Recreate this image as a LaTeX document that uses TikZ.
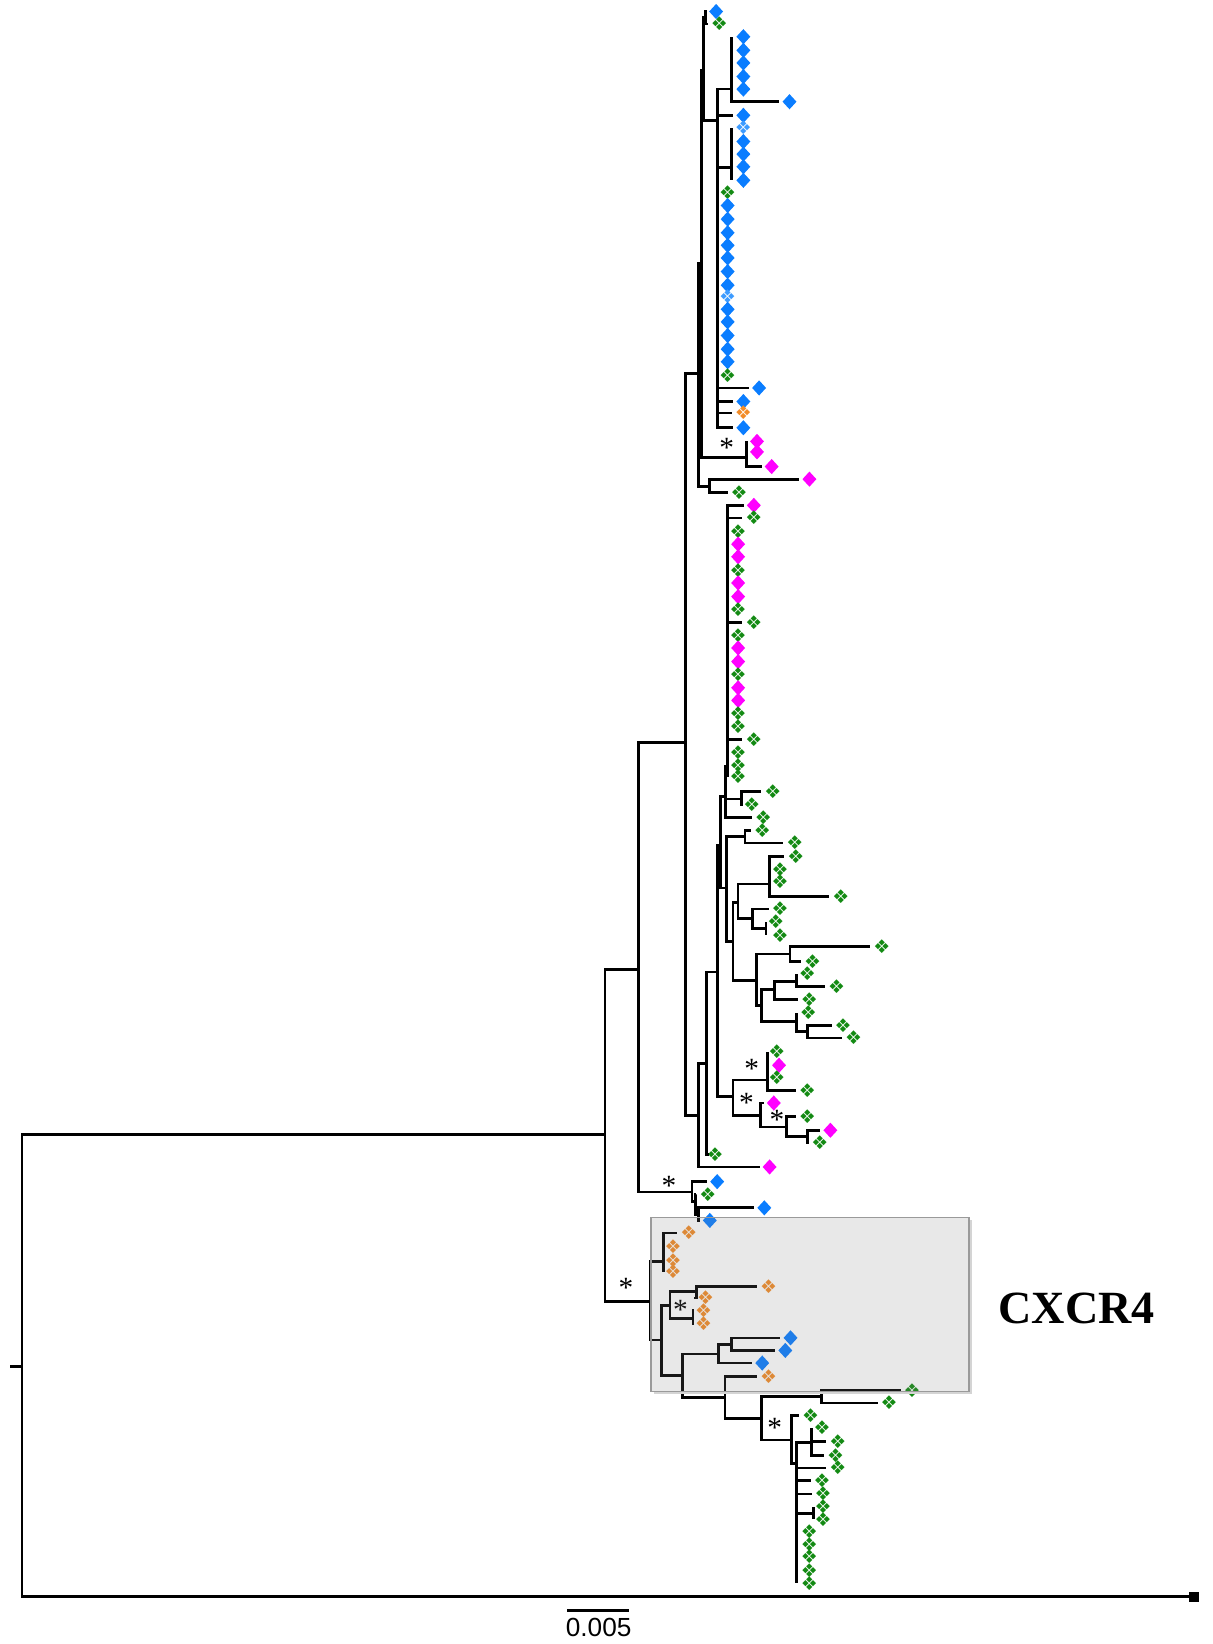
\documentclass[tikz,border=0pt]{standalone}
\usepackage{fontspec}
\setmainfont{Liberation Serif}
\newfontfamily\symfont{DejaVu Sans}
\newfontfamily\barfont{Liberation Sans}
\usetikzlibrary{shapes.geometric}
\definecolor{TipBlue}{HTML}{0A7DFF}
\definecolor{TipPink}{HTML}{FF00FF}
\definecolor{TipGreen}{HTML}{138A13}
\definecolor{TipOrange}{HTML}{F28C28}
\definecolor{TipSky}{HTML}{3D9BFF}
\definecolor{BoxGray}{HTML}{808080}
\definecolor{BoxEdge}{HTML}{9A9A9A}
\definecolor{BoxShade}{HTML}{D4D4D4}

\begin{document}
\begin{tikzpicture}[x=0.5pt,y=-0.5pt,
  br/.style={line width=1.3pt},
  lf/.style={br,shorten >=1.2pt},
  bd/.style={diamond,fill=TipBlue,inner sep=0pt,minimum width=6.8pt,minimum height=7.4pt},
  pd/.style={bd,fill=TipPink},
  gc/.style={inner sep=0pt,text=TipGreen,font=\symfont\fontsize{9}{9}\selectfont,execute at begin node={❖}},
  oc/.style={gc,text=TipOrange},
  bc/.style={gc,text=TipSky},
  ast/.style={inner sep=0pt,font=\fontsize{14}{14}\selectfont}]
\useasboundingbox (0,0) rectangle (1156,1568);

% internal nodes of the tree
\coordinate (root) at (21,1303);
\coordinate (tick) at (10,1303);
\coordinate (n1) at (577,1082);
\coordinate (n2) at (609,925);
\coordinate (nC) at (654,708);
\coordinate (nB) at (666,356);
\coordinate (nA) at (669,251);
\coordinate (nA2) at (671,67);
\coordinate (nT) at (673,17);
\coordinate (n84) at (684,115);
\coordinate (n98a) at (698,85);
\coordinate (n98b) at (698,160);
\coordinate (nPk) at (712,436);
\coordinate (nP2) at (677,464);
\coordinate (nD) at (666,1064);
\coordinate (nE) at (674,1014);
\coordinate (nF) at (684,927);
\coordinate (nG) at (687,806);
\coordinate (nK) at (692,760);
\coordinate (nM) at (694,731);
\coordinate (nH) at (707.5,762);
\coordinate (nI) at (693,847);
\coordinate (nI1) at (710.6,798);
\coordinate (nI2) at (699,898);
\coordinate (nI3) at (704,861);
\coordinate (nI4) at (734,843);
\coordinate (nI5) at (718,876);
\coordinate (nI6) at (730.7,885.5);
\coordinate (nI7) at (721.8,935);
\coordinate (nI8) at (753.5,910);
\coordinate (nI9) at (726.5,959);
\coordinate (nI10) at (739,944);
\coordinate (nI11) at (760,936);
\coordinate (nI12) at (760,974.5);
\coordinate (nI13) at (770,984);
\coordinate (nS1) at (699,1046);
\coordinate (nS2) at (732,1030);
\coordinate (nS3) at (725,1064);
\coordinate (nS4) at (750,1075);
\coordinate (nS5) at (770,1084);
\coordinate (n3) at (660,1137);
\coordinate (n4) at (663,1146);
\coordinate (n5) at (666,1158);
\coordinate (nX) at (620,1241);
\coordinate (nX1) at (632.7,1203);
\coordinate (nX2) at (631,1278);
\coordinate (nX3) at (639,1245);
\coordinate (nX4) at (664,1232);
\coordinate (nX5) at (661,1257.5);
\coordinate (nX7) at (651,1312);
\coordinate (nX8) at (685,1291.5);
\coordinate (nX9) at (698,1282);
\coordinate (nX10) at (691.5,1333);
\coordinate (nX11) at (726.5,1352.6);
\coordinate (nX12) at (783.8,1332);
\coordinate (nX13) at (755,1373.5);
\coordinate (nX14) at (760,1395.5);
\coordinate (nX15) at (774,1376);
\coordinate (nX16) at (776,1443.5);

\node[fill=black,inner sep=0pt,minimum size=4.6pt] (tip) at (1139,1523) {};
\draw[br] (tick) -- (root);
\draw[br] (root) |- (tip.west);

% internal branches
\foreach \p/\c in {root/n1,n1/n2,n1/nX,n2/nC,n2/n3,nC/nB,nC/nD,nB/nA,nB/nP2,
  nA/nA2,nA/nPk,nA2/nT,nA2/n84,n84/n98a,n84/n98b,nD/nE,nE/nF,nF/nG,nF/nS1,
  nG/nK,nG/nI,nK/nM,nK/nH,nI/nI1,nI/nI2,nI2/nI3,nI2/nI7,nI3/nI4,nI3/nI5,
  nI5/nI6,nI7/nI8,nI7/nI9,nI9/nI10,nI9/nI12,nI10/nI11,nI12/nI13,nS1/nS2,
  nS1/nS3,nS3/nS4,nS4/nS5,n3/n4,n4/n5,nX/nX1,nX/nX2,nX2/nX3,nX2/nX7,
  nX3/nX4,nX3/nX5,nX7/nX8,nX7/nX10,nX8/nX9,nX10/nX11,nX11/nX12,nX11/nX13,
  nX13/nX14,nX14/nX15,nX14/nX16}
  \draw[br] (\p) |- (\c);

% tips on a branch
\foreach \p/\n/\s/\x/\y in {nT/t1/bd/683/11,nT/t2/gc/686/23,n98a/a6/bd/753/97,
  n84/b1/bd/709/110,n84/b2/bd/724/370,n84/b3/bd/709/383,n84/b4/oc/709/394,
  n84/b5/bd/709/408,nPk/k3/pd/736/445,nP2/q1/pd/772/457,nP2/q2/gc/705/470,
  nD/d1/pd/734/1113,nE/e1/gc/682/1101,nM/m1/pd/719/482,nM/m2/gc/719/494,
  nM/m3/gc/719/594,nM/m4/gc/719/705,nK/k1/gc/728/780,nH/h1/gc/737/755,
  nH/h2/gc/717/767,nI1/i1/gc/727/792,nI1/i2/gc/758/804,nI4/i3/gc/759/817,
  nI4/i4/gc/802/855,nI5/i5/gc/744/867,nI8/i6/gc/841/903,nI8/i7/gc/775/917,
  nI10/i8/gc/772/953,nI11/i9/gc/798/941,nI13/i10/gc/804/978,nI13/i11/gc/814/990,
  nS2/s1/gc/770/1040,nS3/s2/pd/738/1052,nS4/s3/gc/770/1065,nS5/s4/pd/792/1078,
  nS5/s5/gc/782/1090,n3/u1/bd/684/1127,n4/u2/gc/675/1139,n5/u3/bd/729/1152,
  n5/u4/bd/677/1164,nX1/x1/oc/657/1176,nX4/x2/oc/733/1227,nX4/x3/oc/673/1238,
  nX5/x4/oc/671/1250,nX5/x5/oc/671/1262,nX8/x6/bd/727/1300,nX9/x7/bd/754/1276,
  nX9/x8/bd/749/1288,nX10/x9/oc/733/1313,nX12/x10/gc/870/1326,nX12/x11/gc/848/1338,
  nX13/x12/gc/773/1350,nX14/x13/gc/799/1400,nX14/x14/gc/784/1412,
  nX14/x15/gc/785/1425,nX15/x16/gc/799/1375,nX15/x17/gc/797/1388}
  {\node[\s] (\n) at (\x,\y) {}; \draw[lf] (\p) |- (\n.west);}

% tips sitting on the vertical line
\foreach \p/\n/\s/\x/\y in {n98a/za1/bd/709/35,n98a/za2/bd/709/48,n98a/za3/bd/709/60,
  n98a/za4/bd/709/73,n98a/za5/bd/709/85,n98b/zb1/bc/709/122,n98b/zb2/bd/709/135,
  n98b/zb3/bd/709/147,n98b/zb4/bd/709/159,n98b/zb5/bd/709/172,
  n84/zc1/gc/694/184,n84/zc2/bd/694/196,n84/zc3/bd/694/209,n84/zc4/bd/694/222,
  n84/zc5/bd/694/234,n84/zc6/bd/694/246,n84/zc7/bd/694/259,n84/zc8/bd/694/272,
  n84/zc9/bc/694/283,n84/zc10/bd/694/295,n84/zc11/bd/694/307,n84/zc12/bd/694/320,
  n84/zc13/bd/694/333,n84/zc14/bd/694/345,n84/zc15/gc/694/358,
  nPk/zd1/pd/722/421,nPk/zd2/pd/722/431,
  nM/ze1/gc/704/507,nM/ze2/pd/704/519,nM/ze3/pd/704/531,nM/ze4/gc/704/544,
  nM/ze5/pd/704/556,nM/ze6/pd/704/569,nM/ze7/gc/704/581,nM/ze8/gc/704/606,
  nM/ze9/pd/704/618,nM/ze10/pd/704/631,nM/ze11/gc/704/643,nM/ze12/pd/704/656,
  nM/ze13/pd/704/668,nM/ze14/gc/704/681,nM/ze15/gc/704/693,nM/ze16/gc/704/718,
  nM/ze17/gc/704/730,nM/ze18/gc/704/741,
  nI4/zf1/gc/744/829,nI4/zf2/gc/744/841,nI6/zf3/gc/740/879,nI6/zf4/gc/744/892,
  nI11/zf5/gc/770/929,nI12/zf6/gc/771/966,
  nS2/zg1/gc/741/1003,nS2/zg2/pd/743/1016,nS2/zg3/gc/741/1028,
  nX1/zh1/oc/642/1189,nX1/zh2/oc/642/1202,nX1/zh3/oc/642/1213,
  nX15/zh4/gc/784/1362,nX16/zh5/gc/785/1437,nX16/zh6/gc/785/1449,
  nX14/zh7/gc/772/1461,nX14/zh8/gc/772/1473,nX14/zh9/gc/772/1485,
  nX14/zh10/gc/772/1498,nX14/zh11/gc/772/1510}
  {\node[\s] (\n) at (\x,\y) {}; \draw[br] (\p) -- (\p |- \n);}

% support marks
\foreach \n/\x/\y in {st1/693/427,st2/717/1019,st3/712/1052,st4/741/1068,
  st5/638/1131,st6/597/1228,st7/649/1249,st8/739/1362}
  \node[ast] (\n) at (\x,\y) {*};

% shaded clade
\draw[BoxShade,line width=1.4pt] (925.5,1164) -- (925.5,1328.5) -- (624,1328.5);
\draw[draw=BoxEdge,line width=0.7pt,fill=BoxGray,fill opacity=0.18]
  (621,1161) rectangle (924,1327);
\node[font=\bfseries\fontsize{22}{24}\selectfont] (clade) at (1027,1248) {CXCR4};

% scale bar
\coordinate (sb1) at (541,1536);
\coordinate (sb2) at (600,1536);
\draw[line width=1pt] (sb1) -- (sb2);
\node[font=\barfont\fontsize{12.5}{13}\selectfont,inner sep=0pt] (sbl) at (571,1552) {0.005};
\end{tikzpicture}
\end{document}
